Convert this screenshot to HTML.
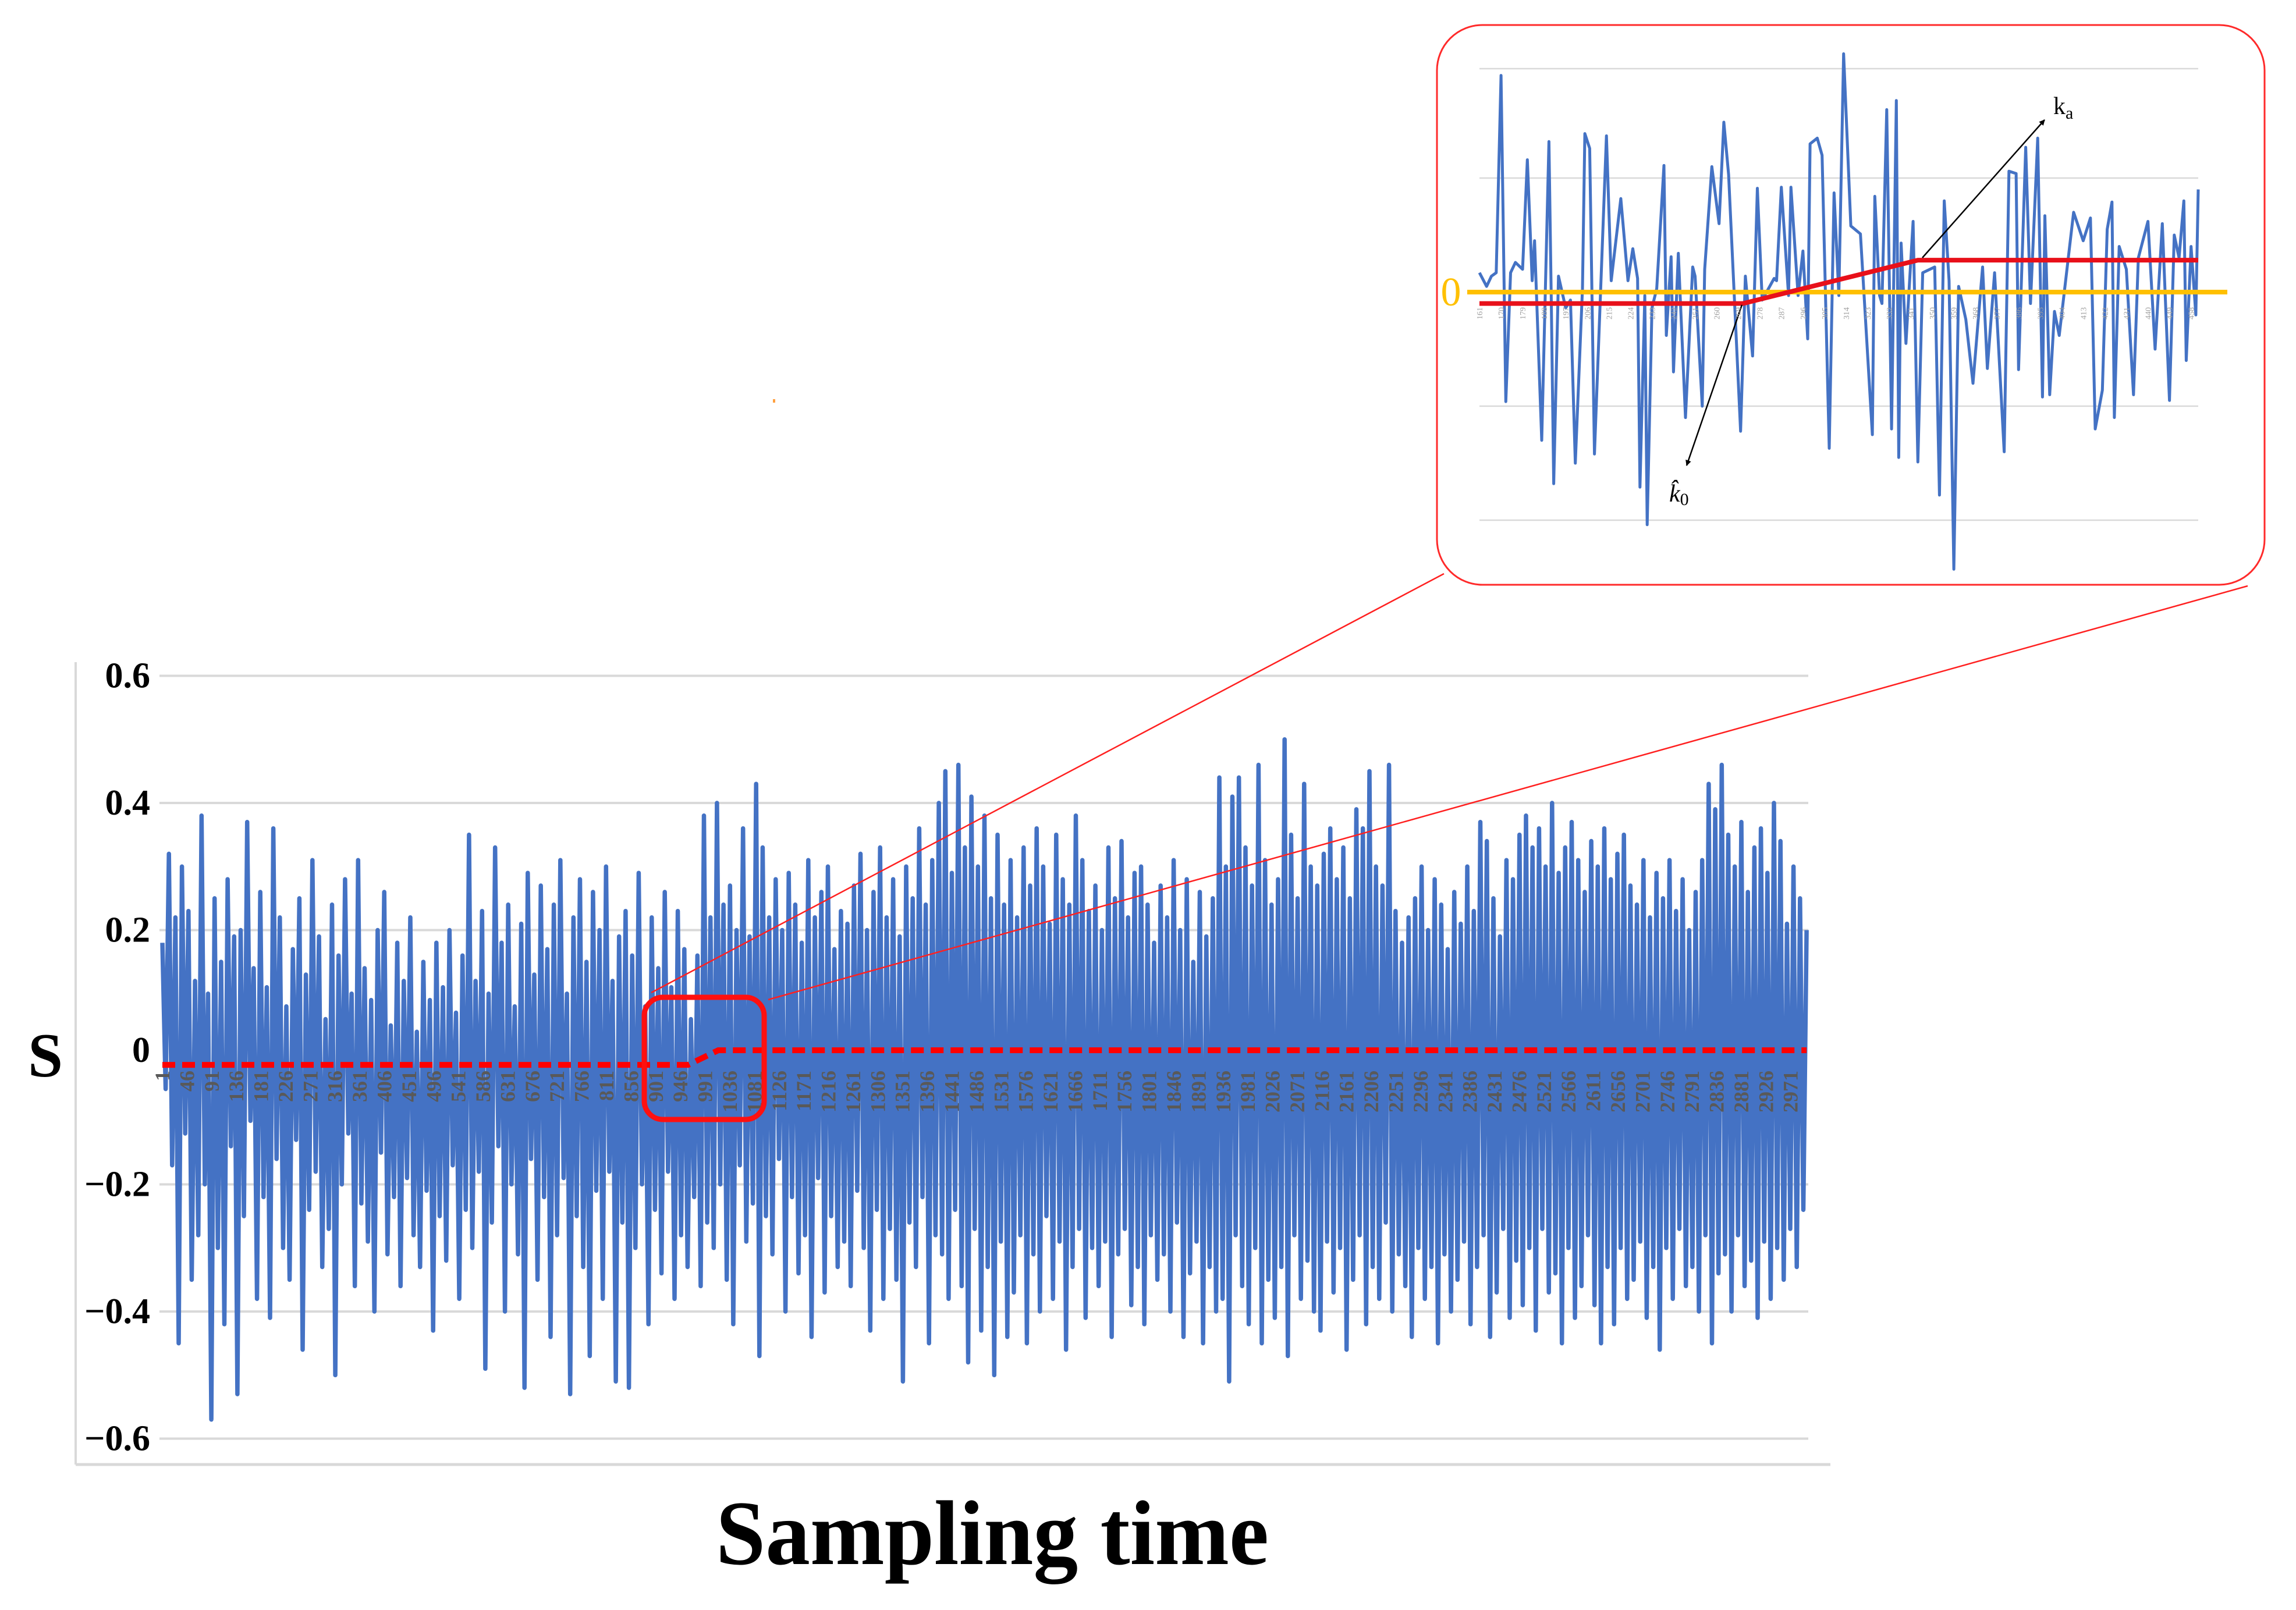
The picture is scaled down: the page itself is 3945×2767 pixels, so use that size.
<!DOCTYPE html>
<html><head><meta charset="utf-8">
<style>
html,body{margin:0;padding:0;background:#fff;}
svg{display:block;}
</style></head>
<body>
<svg id="fig" width="3945" height="2767" viewBox="0 0 3945 2767" xmlns="http://www.w3.org/2000/svg">
  <rect x="0" y="0" width="3945" height="2767" fill="#fff"/>
  <g id="main-grid"></g>
  <line x1="130" y1="1138" x2="130" y2="2517" stroke="#d9d9d9" stroke-width="4"/>
  <line x1="130" y1="2517" x2="3145" y2="2517" stroke="#d9d9d9" stroke-width="5"/>
  <g id="main-yticks"></g>
  <path id="main-series" fill="none" stroke="#4472C4" stroke-width="7.5" stroke-linejoin="round"/>
  <g id="main-xticks"></g>
  <path id="main-threshold" fill="none" stroke="#FF0000" stroke-width="10" stroke-dasharray="22 12"/>
  <text x="78" y="1850" font-family="Liberation Serif, serif" font-weight="bold" font-size="108" text-anchor="middle">S</text>
  <text x="1705" y="2688" font-family="Liberation Serif, serif" font-weight="bold" font-size="158" text-anchor="middle" textLength="950" lengthAdjust="spacingAndGlyphs">Sampling time</text>
  <rect x="1107" y="1714" width="206" height="210" rx="32" fill="none" stroke="#FF1010" stroke-width="9"/>
  <line x1="1119" y1="1706" x2="2481" y2="986" stroke="#FF2020" stroke-width="2.5"/>
  <line x1="1320" y1="1718" x2="3862" y2="1007" stroke="#FF2020" stroke-width="2.5"/>
  <rect x="1328" y="686" width="4" height="6" fill="#FFA040"/>
  <rect x="2469" y="43" width="1422" height="962" rx="78" fill="#fff" stroke="#FF2A2A" stroke-width="3"/>
  <g id="inset-grid"></g>
  <path id="inset-series" fill="none" stroke="#4472C4" stroke-width="5" stroke-linejoin="round"/>
  <line x1="2521" y1="502" x2="3827" y2="502" stroke="#FFC000" stroke-width="8"/>
  <text x="2493" y="525" font-family="Liberation Serif, serif" font-size="70" fill="#FFC000" text-anchor="middle">0</text>
  <path id="inset-threshold" fill="none" stroke="#E8101A" stroke-width="8"/>
  <defs>
    <marker id="ah" markerWidth="10" markerHeight="10" refX="9" refY="5" orient="auto" markerUnits="userSpaceOnUse" viewBox="0 0 10 10">
      <path d="M0,0 L10,5 L0,10 z" fill="#000"/>
    </marker>
  </defs>
  <line x1="3303" y1="443" x2="3513" y2="206" stroke="#000" stroke-width="2.5" marker-end="url(#ah)"/>
  <line x1="2993" y1="524" x2="2898" y2="800" stroke="#000" stroke-width="2.5" marker-end="url(#ah)"/>
  <text x="3528" y="196" font-family="Liberation Serif, serif" font-size="42">k<tspan font-size="30" dy="8">a</tspan></text>
  <text x="2868" y="862" font-family="Liberation Serif, serif" font-style="italic" font-size="42">k̂<tspan font-size="30" dy="6" font-style="normal">0</tspan></text>
  <g id="inset-xticks"></g>
</svg>
<script>
const yTicks = [0.6, 0.4, 0.2, 0, -0.2, -0.4, -0.6];
const yTickLabels = ["0.6", "0.4", "0.2", "0", "\u22120.2", "\u22120.4", "\u22120.6"];
const xTickStart = 1, xTickStep = 45, xTickEnd = 2971;
const sampleCount = 3000;
const mainValues = [
0.18,-0.05,0.32,-0.17,0.22,-0.45,0.30,-0.12,0.23,-0.35,0.12,-0.28,0.38,-0.20,0.10,-0.57,0.25,-0.30,0.15,-0.42,0.28,-0.14,0.19,-0.53,0.20,-0.25,0.37,-0.10,0.14,-0.38,
0.26,-0.22,0.11,-0.41,0.36,-0.16,0.22,-0.30,0.08,-0.35,0.17,-0.13,0.25,-0.46,0.13,-0.24,0.31,-0.18,0.19,-0.33,0.06,-0.27,0.24,-0.50,0.16,-0.20,0.28,-0.12,0.10,-0.36,
0.31,-0.23,0.14,-0.29,0.09,-0.40,0.20,-0.15,0.26,-0.31,0.05,-0.22,0.18,-0.36,0.12,-0.19,0.22,-0.28,0.04,-0.33,0.15,-0.21,0.09,-0.43,0.18,-0.25,0.11,-0.32,0.20,-0.17,
0.07,-0.38,0.16,-0.24,0.35,-0.30,0.12,-0.18,0.23,-0.49,0.10,-0.26,0.33,-0.14,0.18,-0.40,0.24,-0.20,0.08,-0.31,0.21,-0.52,0.29,-0.16,0.13,-0.35,0.27,-0.22,0.17,-0.44,
0.24,-0.28,0.31,-0.19,0.10,-0.53,0.22,-0.25,0.28,-0.33,0.15,-0.47,0.26,-0.21,0.20,-0.38,0.30,-0.18,0.12,-0.51,0.19,-0.26,0.23,-0.52,0.16,-0.30,0.29,-0.20,0.08,-0.42,
0.22,-0.24,0.14,-0.34,0.26,-0.18,0.11,-0.38,0.23,-0.28,0.17,-0.33,0.06,-0.22,0.16,-0.36,0.38,-0.26,0.22,-0.30,0.40,-0.20,0.24,-0.35,0.27,-0.42,0.20,-0.17,0.36,-0.29,
0.19,-0.23,0.43,-0.47,0.33,-0.25,0.22,-0.31,0.28,-0.16,0.20,-0.40,0.29,-0.22,0.24,-0.34,0.18,-0.28,0.31,-0.44,0.22,-0.19,0.26,-0.37,0.30,-0.25,0.17,-0.33,0.23,-0.29,
0.21,-0.36,0.27,-0.21,0.32,-0.30,0.20,-0.43,0.26,-0.24,0.33,-0.38,0.22,-0.27,0.28,-0.35,0.19,-0.51,0.30,-0.26,0.25,-0.33,0.36,-0.22,0.24,-0.45,0.31,-0.28,0.40,-0.31,
0.45,-0.38,0.29,-0.24,0.46,-0.36,0.33,-0.48,0.41,-0.27,0.30,-0.43,0.38,-0.33,0.25,-0.50,0.35,-0.29,0.24,-0.44,0.31,-0.37,0.22,-0.28,0.33,-0.45,0.27,-0.31,0.36,-0.40,
0.30,-0.25,0.21,-0.38,0.35,-0.29,0.28,-0.46,0.24,-0.33,0.38,-0.27,0.31,-0.41,0.23,-0.30,0.27,-0.36,0.20,-0.29,0.33,-0.44,0.25,-0.31,0.34,-0.27,0.22,-0.39,0.29,-0.33,
0.30,-0.42,0.24,-0.28,0.18,-0.35,0.27,-0.31,0.22,-0.40,0.31,-0.26,0.20,-0.44,0.28,-0.34,0.15,-0.29,0.26,-0.45,0.19,-0.33,0.25,-0.40,0.44,-0.38,0.30,-0.51,0.41,-0.28,
0.44,-0.36,0.33,-0.42,0.27,-0.30,0.46,-0.45,0.31,-0.35,0.24,-0.41,0.28,-0.33,0.50,-0.47,0.35,-0.28,0.25,-0.38,0.43,-0.32,0.30,-0.40,0.27,-0.43,0.32,-0.29,0.36,-0.37,
0.28,-0.30,0.33,-0.46,0.25,-0.35,0.39,-0.28,0.36,-0.42,0.45,-0.33,0.30,-0.38,0.27,-0.26,0.46,-0.40,0.23,-0.31,0.18,-0.36,0.22,-0.44,0.25,-0.30,0.30,-0.38,0.20,-0.33,
0.28,-0.45,0.24,-0.31,0.17,-0.40,0.26,-0.35,0.21,-0.29,0.30,-0.42,0.23,-0.33,0.37,-0.28,0.34,-0.44,0.25,-0.37,0.19,-0.27,0.31,-0.41,0.28,-0.32,0.35,-0.39,0.38,-0.30,
0.33,-0.43,0.36,-0.27,0.30,-0.37,0.40,-0.34,0.29,-0.45,0.33,-0.30,0.37,-0.41,0.31,-0.36,0.26,-0.28,0.34,-0.39,0.30,-0.45,0.36,-0.33,0.28,-0.42,0.32,-0.30,0.35,-0.38,
0.27,-0.35,0.24,-0.29,0.31,-0.41,0.22,-0.33,0.29,-0.46,0.25,-0.30,0.31,-0.38,0.23,-0.27,0.28,-0.36,0.20,-0.33,0.26,-0.40,0.31,-0.28,0.43,-0.45,0.39,-0.34,0.46,-0.31,
0.35,-0.40,0.30,-0.28,0.37,-0.36,0.26,-0.32,0.33,-0.41,0.36,-0.29,0.29,-0.38,0.40,-0.30,0.34,-0.35,0.21,-0.27,0.30,-0.33,0.25,-0.24,0.20
];
const insetSamples = [0,3,5,7,9,11,13,15,18,20,22,23,26,29,30,31,33,36,38,40,43,44,46,48,53,55,59,62,64,66,67,69,70,72,74,77,78,80,81,83,86,89,90,93,94,97,100,102,104,109,111,114,116,118,123,124,126,129,130,133,135,137,138,141,143,146,148,150,152,155,159,164,165,167,168,170,172,174,175,176,178,181,183,185,190,192,194,196,198,200,203,206,210,212,215,219,221,224,225,228,230,233,235,236,238,240,242,248,252,255,257,260,262,264,265,267,270,273,275,279,282,285,288,290,292,294,295,297,299,300];
const insetValues = [0.17,0.05,0.14,0.17,1.9,-0.96,0.17,0.26,0.2,1.16,0.1,0.45,-1.3,1.32,-0.1,-1.68,0.14,-0.14,-0.07,-1.5,0.03,1.39,1.26,-1.42,1.37,0.1,0.82,0.1,0.38,0.12,-1.71,-0.03,-2.04,-0.14,0.03,1.11,-0.38,0.31,-0.7,0.34,-1.1,0.22,0.14,-1.0,0.2,1.1,0.6,1.49,1.03,-1.22,0.14,-0.56,0.91,-0.07,0.12,0.1,0.92,-0.03,0.92,-0.03,0.36,-0.41,1.3,1.35,1.2,-1.37,0.87,-0.03,2.09,0.58,0.51,-1.25,0.84,-0.03,-0.1,1.6,-1.2,1.68,-1.45,0.43,-0.45,0.62,-1.49,0.17,0.22,-1.78,0.8,0.1,-2.43,0.05,-0.24,-0.8,0.22,-0.67,0.17,-1.4,1.06,1.04,-0.68,1.27,-0.1,1.35,-0.92,0.67,-0.9,-0.17,-0.38,0.7,0.45,0.65,-1.2,-0.86,0.55,0.79,-1.1,0.4,0.2,-0.9,0.3,0.62,-0.5,0.6,-0.95,0.5,0.3,0.8,-0.6,0.4,-0.2,0.9];
const insetThresholdSamples = [0, 110, 183, 300];
const insetThresholdValues = [-0.1, -0.1, 0.28, 0.28];
const mainThresholdSamples = [1, 960, 1015, 3000];
const mainThresholdValues = [-0.012, -0.012, 0.011, 0.011];

const NS = "http://www.w3.org/2000/svg";
const mainX = s => 279 + (s - 1) * 0.9420;
const mainY = v => 1817 - v * 1092.5;
const insetX = s => 2542 + s * (3777 - 2542) / 300;
const insetY = v => 502 - v * 196;

function mk(tag, parent) { const e = document.createElementNS(NS, tag); parent.appendChild(e); return e; }

const gGrid = document.getElementById("main-grid");
const gY = document.getElementById("main-yticks");
yTicks.forEach((v, i) => {
  if (v !== 0) {
    const l = mk("line", gGrid);
    
    
    l.setAttribute("x1", 274); l.setAttribute("x2", 3107);
    l.setAttribute("y1", mainY(v)); l.setAttribute("y2", mainY(v));
    l.setAttribute("stroke", "#d9d9d9"); l.setAttribute("stroke-width", 4);
  }
  const t = mk("text", gY);
  
  
  t.setAttribute("x", 258); t.setAttribute("y", mainY(v) + (v === 0 ? 8 : 20));
  t.setAttribute("text-anchor", "end");
  t.setAttribute("font-family", "Liberation Serif, serif");
  t.setAttribute("font-weight", "bold");
  t.setAttribute("font-size", "62");
  t.textContent = yTickLabels[i];
});

const n = mainValues.length;
let d = "";
mainValues.forEach((v, i) => {
  const s = 1 + i * (sampleCount - 1) / (n - 1);
  d += (i ? "L" : "M") + mainX(s).toFixed(1) + "," + mainY(v).toFixed(1);
});
document.getElementById("main-series").setAttribute("d", d);

const gX = document.getElementById("main-xticks");
for (let s = xTickStart; s <= xTickEnd; s += xTickStep) {
  const t = mk("text", gX);
  
  
  const x = mainX(s) + 12, y = 1840;
  t.setAttribute("x", x); t.setAttribute("y", y);
  t.setAttribute("transform", `rotate(-90 ${x} ${y})`);
  t.setAttribute("text-anchor", "end");
  t.setAttribute("font-family", "Liberation Serif, serif");
  t.setAttribute("font-weight", "bold");
  t.setAttribute("font-size", "36");
  t.setAttribute("fill", "#595959");
  t.textContent = String(s);
}

let dt = "";
mainThresholdSamples.forEach((s, i) => { dt += (i ? "L" : "M") + mainX(s).toFixed(1) + "," + mainY(mainThresholdValues[i]).toFixed(1); });
document.getElementById("main-threshold").setAttribute("d", dt);

const ig = document.getElementById("inset-grid");
[2, 1, -1, -2].forEach(v => {
  const l = mk("line", ig);
  
  
  const yy = insetY(v) + (v === 2 ? 8 : 0);
  l.setAttribute("x1", 2542); l.setAttribute("x2", 3777);
  l.setAttribute("y1", yy); l.setAttribute("y2", yy);
  l.setAttribute("stroke", "#d9d9d9"); l.setAttribute("stroke-width", 2.5);
});
let di = "";
insetValues.forEach((v, i) => { di += (i ? "L" : "M") + insetX(insetSamples[i]).toFixed(1) + "," + insetY(v).toFixed(1); });
document.getElementById("inset-series").setAttribute("d", di);
let dit = "";
insetThresholdSamples.forEach((s, i) => { dit += (i ? "L" : "M") + insetX(s).toFixed(1) + "," + insetY(insetThresholdValues[i]).toFixed(1); });
document.getElementById("inset-threshold").setAttribute("d", dit);

const ix = document.getElementById("inset-xticks");
for (let s = 0; s <= 300; s += 9) {
  const t = mk("text", ix);
  
  
  const x = insetX(s) + 5, y = 528;
  t.setAttribute("x", x); t.setAttribute("y", y);
  t.setAttribute("transform", `rotate(-90 ${x} ${y})`);
  t.setAttribute("text-anchor", "end");
  t.setAttribute("font-family", "Liberation Serif, serif");
  t.setAttribute("font-size", "14");
  t.setAttribute("fill", "#a0a0a0");
  t.textContent = String(161 + s);
}
</script>
</body></html>
